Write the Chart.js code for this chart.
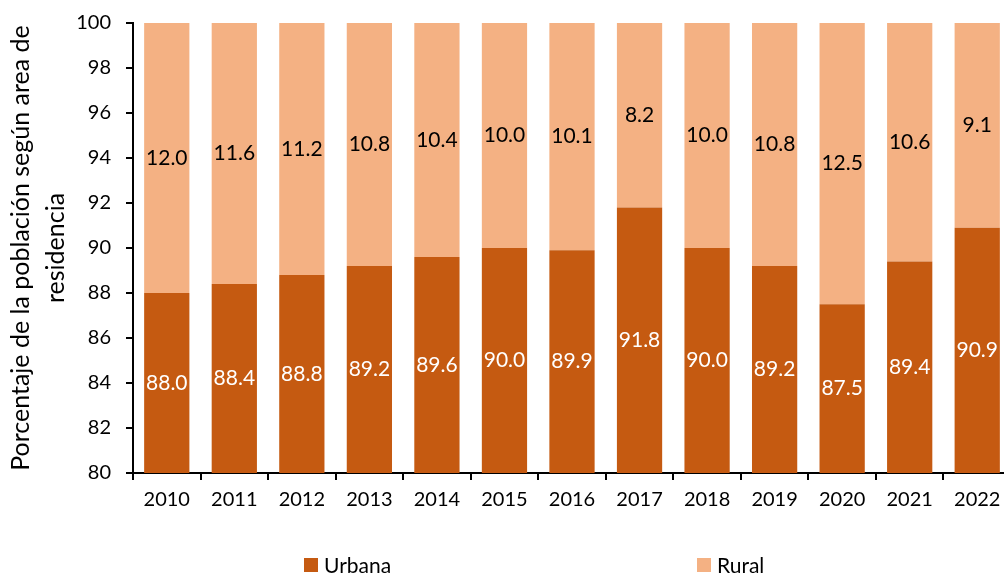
<!DOCTYPE html>
<html lang="es">
<head>
    <meta charset="UTF-8">
    <title>Población según área de residencia</title>
    <script src="https://cdn.jsdelivr.net/npm/chart.js"></script>
    <style>
        body { margin: 0; background: #fff; font-family: Lato, sans-serif; }
        .wrap { position: relative; width: 1004px; height: 573px; overflow: hidden; }
        .plot { position: absolute; top: 0; left: 0; width: 1011px; height: 573px; }
        .legend { position: absolute; top: 552px; left: 0; width: 1004px; height: 22px; }
        .legend-item { position: absolute; display: flex; align-items: center; font-size: 21px; color: #000; }
        .legend-item span.box { width: 14px; height: 14px; margin-right: 6px; }
    </style>
</head>
<body>
    <div class="wrap">
        <div class="plot"><canvas id="poblacionChart"></canvas></div>
        <div class="legend" id="legend"></div>
    </div>

    <script>
        // Datos
        const years = ['2010', '2011', '2012', '2013', '2014', '2015', '2016', '2017', '2018', '2019', '2020', '2021', '2022'];
        const urbana = [88.0, 88.4, 88.8, 89.2, 89.6, 90.0, 89.9, 91.8, 90.0, 89.2, 87.5, 89.4, 90.9];
        const rural = [12.0, 11.6, 11.2, 10.8, 10.4, 10.0, 10.1, 8.2, 10.0, 10.8, 12.5, 10.6, 9.1];
        const yTicks = [80, 82, 84, 86, 88, 90, 92, 94, 96, 98, 100];

        const colors = {
            urbana: '#C55A11',
            rural: '#F4B183'
        };

        // Etiquetas centradas en la parte visible de cada barra
        const valueLabels = {
            id: 'valueLabels',
            afterDatasetsDraw(chart) {
                const ctx = chart.ctx;
                const area = chart.chartArea;
                ctx.save();
                ctx.font = '21px Lato';
                ctx.textAlign = 'center';
                ctx.textBaseline = 'middle';
                chart.data.datasets.forEach((ds, i) => {
                    const meta = chart.getDatasetMeta(i);
                    ctx.fillStyle = ds.labelColor;
                    meta.data.forEach((bar, j) => {
                        const top = Math.max(Math.min(bar.y, bar.base), area.top);
                        const bottom = Math.min(Math.max(bar.y, bar.base), area.bottom);
                        ctx.fillText(ds.data[j].toFixed(1), bar.x, (top + bottom) / 2);
                    });
                });
                ctx.restore();
            }
        };

        const chart = new Chart(document.getElementById('poblacionChart'), {
            type: 'bar',
            data: {
                labels: years,
                datasets: [{
                    label: 'Urbana',
                    data: urbana,
                    backgroundColor: colors.urbana,
                    labelColor: '#ffffff',
                    barPercentage: 0.67,
                    categoryPercentage: 1
                }, {
                    label: 'Rural',
                    data: rural,
                    backgroundColor: colors.rural,
                    labelColor: '#000000',
                    barPercentage: 0.67,
                    categoryPercentage: 1
                }]
            },
            options: {
                responsive: true,
                maintainAspectRatio: false,
                animation: false,
                layout: {
                    padding: { top: 23, right: 0, bottom: 60, left: 0 }
                },
                plugins: {
                    legend: { display: false },
                    tooltip: { enabled: false }
                },
                scales: {
                    x: {
                        stacked: true,
                        border: { color: '#000', width: 2 },
                        grid: { display: true, drawOnChartArea: false, drawTicks: true, tickLength: 7, color: '#000', lineWidth: 2, offset: true },
                        ticks: { color: '#000', font: { family: 'Lato', size: 20 }, padding: 8, maxRotation: 0 },
                        afterFit: (s) => { s.height = 40; s.paddingLeft = 0; s.paddingRight = 0; }
                    },
                    y: {
                        stacked: true,
                        min: 80,
                        max: 100,
                        afterBuildTicks: (s) => { s.ticks = yTicks.map(v => ({ value: v })); },
                        border: { color: '#000', width: 2 },
                        grid: { drawOnChartArea: false, drawTicks: true, tickLength: 7, color: '#000', lineWidth: 2 },
                        ticks: { color: '#000', font: { family: 'Lato', size: 20 }, padding: 15 },
                        title: {
                            display: true,
                            text: ['Porcentaje de la población según area de', 'residencia'],
                            color: '#000',
                            font: { family: 'Lato', size: 25, lineHeight: 1.4 },
                            padding: { top: 3, bottom: 0 }
                        },
                        afterFit: (s) => { s.width = 133; s.paddingTop = 0; s.paddingBottom = 0; }
                    }
                }
            },
            plugins: [valueLabels]
        });

        // Leyenda
        const legendPos = [304, 697];
        const legend = document.getElementById('legend');
        chart.data.datasets.forEach((ds, i) => {
            const item = document.createElement('div');
            item.className = 'legend-item';
            item.style.left = legendPos[i] + 'px';
            item.innerHTML = '<span class="box" style="background:' + ds.backgroundColor + '"></span>' + ds.label;
            legend.appendChild(item);
        });
    </script>
</body>
</html>
